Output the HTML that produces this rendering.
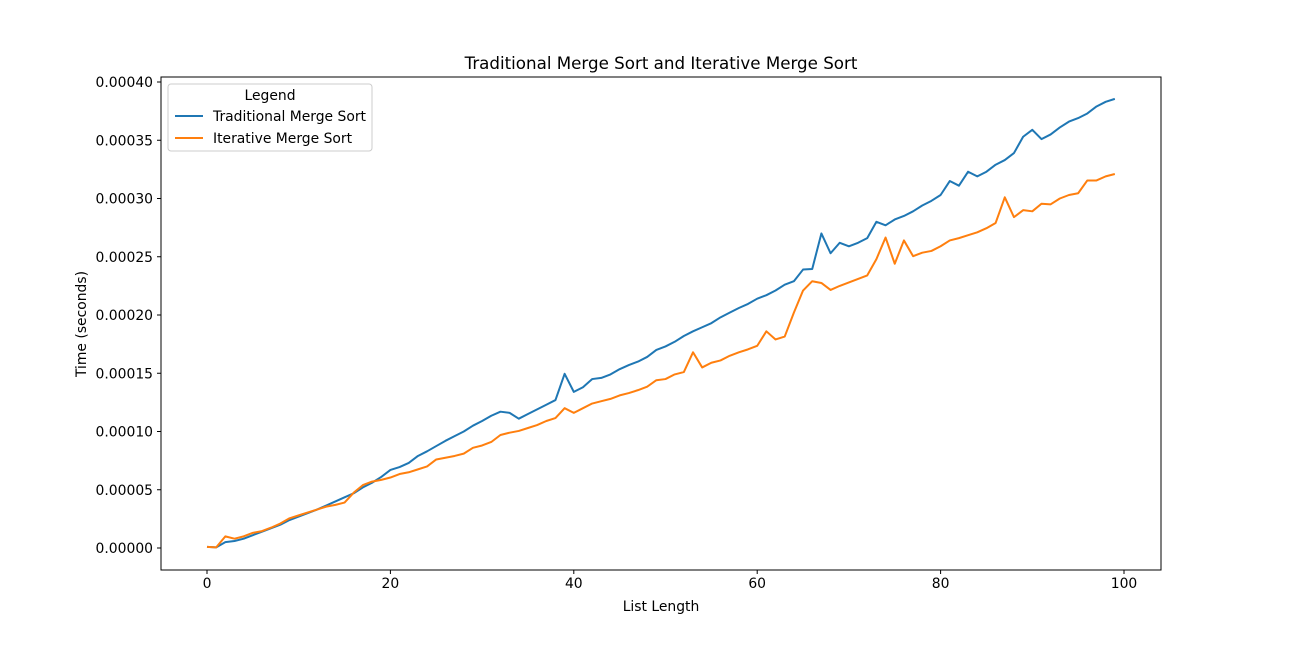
<!DOCTYPE html>
<html><head><meta charset="utf-8"><style>
html,body{margin:0;padding:0;background:#fff}
svg text{font-family:"DejaVu Sans","Liberation Sans",sans-serif;fill:#000}
</style></head><body>
<svg id="chart" width="1290" height="641" xmlns="http://www.w3.org/2000/svg">
<rect width="1290" height="641" fill="#fff"/>
</svg>
<script>
const xValues = Array.from({length:100},(_,i)=>i);
const traditional = [0.1,0.05,0.5,0.6,0.8,1.1,1.4,1.7,2.0,2.4,2.7,3.0,3.3,3.65,4.0,4.35,4.7,5.2,5.6,6.1,6.7,6.95,7.3,7.9,8.3,8.75,9.2,9.6,10.0,10.5,10.9,11.35,11.7,11.6,11.1,11.5,11.9,12.3,12.7,14.95,13.4,13.8,14.5,14.6,14.9,15.35,15.7,16.0,16.4,17.0,17.3,17.7,18.2,18.6,18.95,19.3,19.8,20.2,20.6,20.95,21.4,21.7,22.1,22.6,22.9,23.9,23.95,27.0,25.3,26.2,25.9,26.2,26.6,28.0,27.7,28.2,28.5,28.9,29.4,29.8,30.3,31.5,31.1,32.3,31.9,32.3,32.9,33.3,33.9,35.3,35.9,35.1,35.5,36.1,36.6,36.9,37.3,37.9,38.3,38.55];
const iterative = [0.1,0.05,1.0,0.8,1.0,1.3,1.45,1.75,2.1,2.55,2.8,3.05,3.3,3.55,3.7,3.9,4.75,5.4,5.7,5.85,6.05,6.35,6.5,6.75,7.0,7.6,7.75,7.9,8.1,8.6,8.8,9.1,9.7,9.9,10.05,10.3,10.55,10.9,11.15,12.0,11.6,12.0,12.4,12.6,12.8,13.1,13.3,13.55,13.85,14.4,14.5,14.9,15.1,16.8,15.5,15.9,16.1,16.5,16.8,17.05,17.35,18.6,17.9,18.15,20.2,22.1,22.9,22.75,22.15,22.5,22.8,23.1,23.4,24.8,26.65,24.4,26.4,25.05,25.35,25.5,25.9,26.4,26.6,26.85,27.1,27.45,27.9,30.1,28.4,29.0,28.9,29.55,29.5,30.0,30.3,30.45,31.55,31.55,31.9,32.1];
const valueScale = 1e-5;
const xTicks = [0,20,40,60,80,100];
const yTicks = [0,0.00005,0.0001,0.00015,0.0002,0.00025,0.0003,0.00035,0.0004];

const svg = document.getElementById('chart');
const NS = 'http://www.w3.org/2000/svg';
const L=161,R=1161,T=77,B=570;
const FS=13.9;
const xs = v => 207 + v*(1124-207)/100;
const ys = v => 548 - v*(548-82)/0.0004;
function mk(tag, attrs, txt){const e=document.createElementNS(NS,tag);for(const k in attrs)e.setAttribute(k,attrs[k]);if(txt!==undefined)e.textContent=txt;svg.appendChild(e);return e;}

const frame = mk('rect',{x:L,y:T,width:R-L,height:B-T,fill:'none',stroke:'#000','stroke-width':1});



xTicks.forEach(t=>{
  const x=xs(t);
  const l=mk('line',{x1:x,x2:x,y1:B,y2:B+4,stroke:'#000'});
  
  
  const tx=mk('text',{x:x,y:B+18,'text-anchor':'middle','font-size':FS},String(t));
  
  
});
yTicks.forEach(t=>{
  const y=ys(t);
  const l=mk('line',{x1:L-4,x2:L,y1:y,y2:y,stroke:'#000'});
  
  
  const tx=mk('text',{x:L-8,y:y+5,'text-anchor':'end','font-size':FS},t.toFixed(5));
  
  
});

function series(arr,color,name){
  const d=arr.map((v,i)=>(i?'L':'M')+xs(xValues[i]).toFixed(2)+','+ys(v*valueScale).toFixed(2)).join(' ');
  const p=mk('path',{d:d,fill:'none',stroke:color,'stroke-width':2,'stroke-linejoin':'round'});
  
  
}
series(traditional,'#1f77b4','traditional-line');
series(iterative,'#ff7f0e','iterative-line');

const title=mk('text',{x:661,y:69,'text-anchor':'middle','font-size':16.7},'Traditional Merge Sort and Iterative Merge Sort');


const xt=mk('text',{x:661,y:611,'text-anchor':'middle','font-size':FS},'List Length');


const yt=mk('text',{x:86,y:324,'text-anchor':'middle','font-size':FS,transform:'rotate(-90 86 324)'},'Time (seconds)');



const lg=mk('rect',{x:168,y:84,width:204,height:67,rx:3,fill:'#fff','fill-opacity':0.8,stroke:'#ccc'});


const lt=mk('text',{x:270,y:100,'text-anchor':'middle','font-size':FS},'Legend');


[['Traditional Merge Sort','#1f77b4',116],['Iterative Merge Sort','#ff7f0e',138]].forEach(([n,c,y])=>{
  const l=mk('line',{x1:175,x2:203,y1:y,y2:y,stroke:c,'stroke-width':2});
  
  
  const t=mk('text',{x:213,y:y+5,'font-size':FS},n);
  
  
});
</script>
</body></html>
